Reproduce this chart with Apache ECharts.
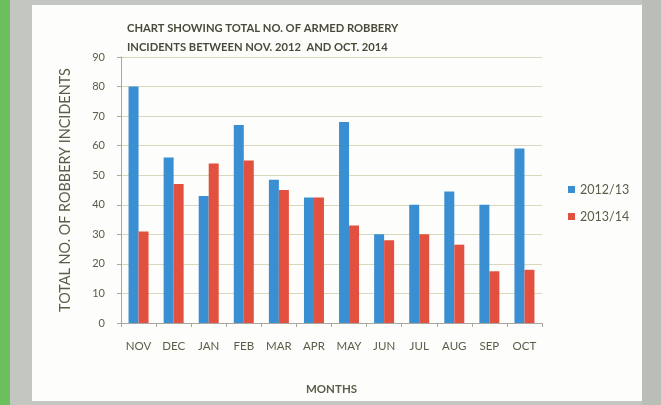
<!DOCTYPE html>
<html>
<head>
<meta charset="utf-8">
<script src="https://cdn.jsdelivr.net/npm/echarts@6/dist/echarts.min.js"></script>
<style>
  html, body { margin: 0; padding: 0; }
  #wrap { position: relative; width: 661px; height: 405px; background: #c4c6c2; overflow: hidden; }
  #green { position: absolute; left: 0; top: 0; width: 10px; height: 405px; background: #6bbf5c; }
  #panel { position: absolute; left: 32px; top: 5px; width: 610px; height: 396px; background: #fdfdfb; }
  #right { position: absolute; left: 642px; top: 0; width: 19px; height: 405px; background: #b9bfb6; }
  #main { position: absolute; left: 0; top: 0; width: 661px; height: 405px; }
</style>
</head>
<body>
<div id="wrap">
  <div id="green"></div>
  <div id="panel"></div>
  <div id="right"></div>
  <div id="main"></div>
</div>
<script>
const months = ['NOV', 'DEC', 'JAN', 'FEB', 'MAR', 'APR', 'MAY', 'JUN', 'JUL', 'AUG', 'SEP', 'OCT']
const series1213 = [80, 56, 43, 67, 48.5, 42.5, 68, 30, 40, 44.5, 40, 59]
const series1314 = [31, 47, 54, 55, 45, 42.5, 33, 28, 30, 26.5, 17.5, 18]
const seriesNames = ['2012/13', '2013/14']

const textColor = '#5c5c48'
const chart = echarts.init(document.getElementById('main'), null, { renderer: 'canvas' })

chart.setOption({
  backgroundColor: 'transparent',
  animation: false,
  title: {
    text: 'CHART SHOWING TOTAL NO. OF ARMED ROBBERY\nINCIDENTS BETWEEN NOV. 2012  AND OCT. 2014',
    left: 122,
    top: 14,
    textStyle: {
      fontFamily: 'Lato',
      fontSize: 11.2,
      fontWeight: 'bold',
      color: '#4a4a3c',
      lineHeight: 19
    }
  },
  legend: {
    orient: 'vertical',
    left: 563,
    top: 178,
    itemWidth: 7,
    itemHeight: 7,
    itemGap: 14,
    icon: 'rect',
    textStyle: {
      fontFamily: 'Lato',
      fontSize: 12.5,
      color: textColor
    },
    data: seriesNames
  },
  grid: {
    left: 121,
    right: 119,
    top: 57,
    bottom: 82,
    containLabel: false
  },
  xAxis: {
    type: 'category',
    data: months,
    name: 'MONTHS',
    nameLocation: 'middle',
    nameGap: 60,
    nameTextStyle: {
      fontFamily: 'Lato',
      fontSize: 11.5,
      fontWeight: 'bold',
      color: textColor
    },
    axisLine: { lineStyle: { color: '#a8a8a0' } },
    axisTick: { show: true, length: 4, lineStyle: { color: '#a8a8a0' } },
    axisLabel: {
      margin: 17,
      fontFamily: 'Lato',
      fontSize: 11.5,
      color: textColor
    }
  },
  yAxis: {
    type: 'value',
    min: 0,
    max: 90,
    interval: 10,
    name: 'TOTAL NO. OF ROBBERY INCIDENTS',
    nameLocation: 'middle',
    nameGap: 49,
    nameTextStyle: {
      fontFamily: 'Lato',
      fontSize: 14.4,
      color: textColor
    },
    axisLine: { show: true, lineStyle: { color: '#a8a8a0' } },
    axisTick: { show: true, length: 4, lineStyle: { color: '#a8a8a0' } },
    axisLabel: {
      margin: 16,
      fontFamily: 'Lato',
      fontSize: 11,
      color: textColor
    },
    splitLine: { lineStyle: { color: '#d9d8bc' } }
  },
  series: [
    {
      name: seriesNames[0],
      type: 'bar',
      data: series1213,
      barWidth: 10,
      barGap: '0%',
      itemStyle: { color: '#3a8fd2' }
    },
    {
      name: seriesNames[1],
      type: 'bar',
      data: series1314,
      barWidth: 10,
      itemStyle: { color: '#e2513f' }
    }
  ]
})
</script>
</body>
</html>
